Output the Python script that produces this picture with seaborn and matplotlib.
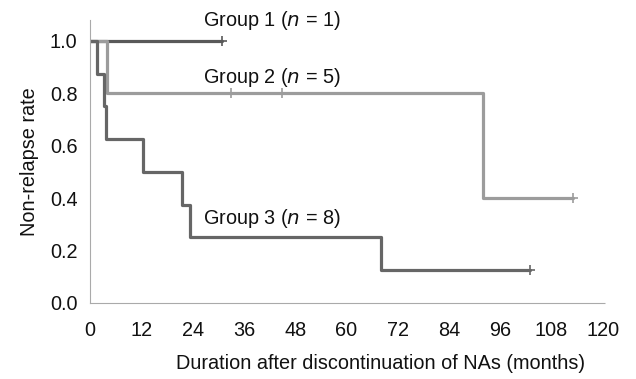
import matplotlib
matplotlib.use("Agg")
import matplotlib.pyplot as plt
import seaborn as sns
import pandas as pd

# Kaplan-Meier step data (months, non-relapse rate)
g1_time = [0, 31]
g1_rate = [1.0, 1.0]
g1_cens = [31]
g1_cens_rate = [1.0]

g2_time = [0, 4, 92, 113]
g2_rate = [1.0, 0.8, 0.4, 0.4]
g2_cens = [33, 45, 113]
g2_cens_rate = [0.8, 0.8, 0.4]

g3_time = [0, 1.7, 3.3, 3.8, 12.5, 21.5, 23.3, 68, 103]
g3_rate = [1.0, 0.875, 0.75, 0.625, 0.5, 0.375, 0.25, 0.125, 0.125]
g3_cens = [103]
g3_cens_rate = [0.125]

group_labels = ["Group 1", "Group 2", "Group 3"]
group_n = [1, 5, 8]
x_ticks = [0, 12, 24, 36, 48, 60, 72, 84, 96, 108, 120]
y_ticks = [0.0, 0.2, 0.4, 0.6, 0.8, 1.0]

sns.set_theme(style="white")
plt.rcParams["font.family"] = ["Liberation Sans", "DejaVu Sans"]

FS = 14.3

fig = plt.figure(figsize=(6.36, 3.79), dpi=100)
ax = fig.add_axes([90 / 636, 1 - 303 / 379, (605 - 90) / 636, (303 - 20) / 379])

colors = ["#595959", "#9c9c9c", "#666666"]
series = [
    (g1_time, g1_rate, g1_cens, g1_cens_rate),
    (g2_time, g2_rate, g2_cens, g2_cens_rate),
    (g3_time, g3_rate, g3_cens, g3_cens_rate),
]
for (t, r, ct, cr), col in zip(series, colors):
    df = pd.DataFrame({"time": t, "rate": r})
    sns.lineplot(data=df, x="time", y="rate", drawstyle="steps-post",
                 estimator=None, sort=False, color=col, linewidth=2.3, ax=ax)
    dfc = pd.DataFrame({"time": ct, "rate": cr})
    sns.scatterplot(data=dfc, x="time", y="rate", marker="+", s=45,
                    color=col, linewidth=1.2, ax=ax, zorder=3)

# Group labels
label_pos = [(26.5, 1.08), (26.5, 0.86), (26.5, 0.322)]
for (lab, n), (lx, ly) in zip(zip(group_labels, group_n), label_pos):
    ax.text(lx, ly, f"{lab} ($\\it{{n}}$ = {n})", fontsize=FS,
            ha="left", va="center", color="#111111")

ax.set_xlim(0, 120.5)
ax.set_ylim(0, 1.08)
ax.set_xticks(x_ticks)
ax.set_yticks(y_ticks)
ax.set_xticklabels([str(v) for v in x_ticks])
ax.set_yticklabels([f"{v:.1f}" for v in y_ticks])
ax.tick_params(axis="both", labelsize=FS, colors="#111111", length=3,
               width=0.6, direction="out", pad=6)
ax.tick_params(axis="x", color="#aaaaaa", pad=10)
ax.tick_params(axis="y", color="#aaaaaa", pad=6)

for s in ["top", "right"]:
    ax.spines[s].set_visible(False)
for s in ["left", "bottom"]:
    ax.spines[s].set_color("#aaaaaa")
    ax.spines[s].set_linewidth(0.8)
    ax.spines[s].set_linestyle((0, (1, 1)))

ax.set_xlabel("Duration after discontinuation of NAs (months)", fontsize=FS,
              color="#111111")
ax.xaxis.set_label_coords(0.565, -0.18)
ax.set_ylabel("Non-relapse rate", fontsize=FS, color="#111111", labelpad=8)

fig.savefig("out.png", dpi=100)
